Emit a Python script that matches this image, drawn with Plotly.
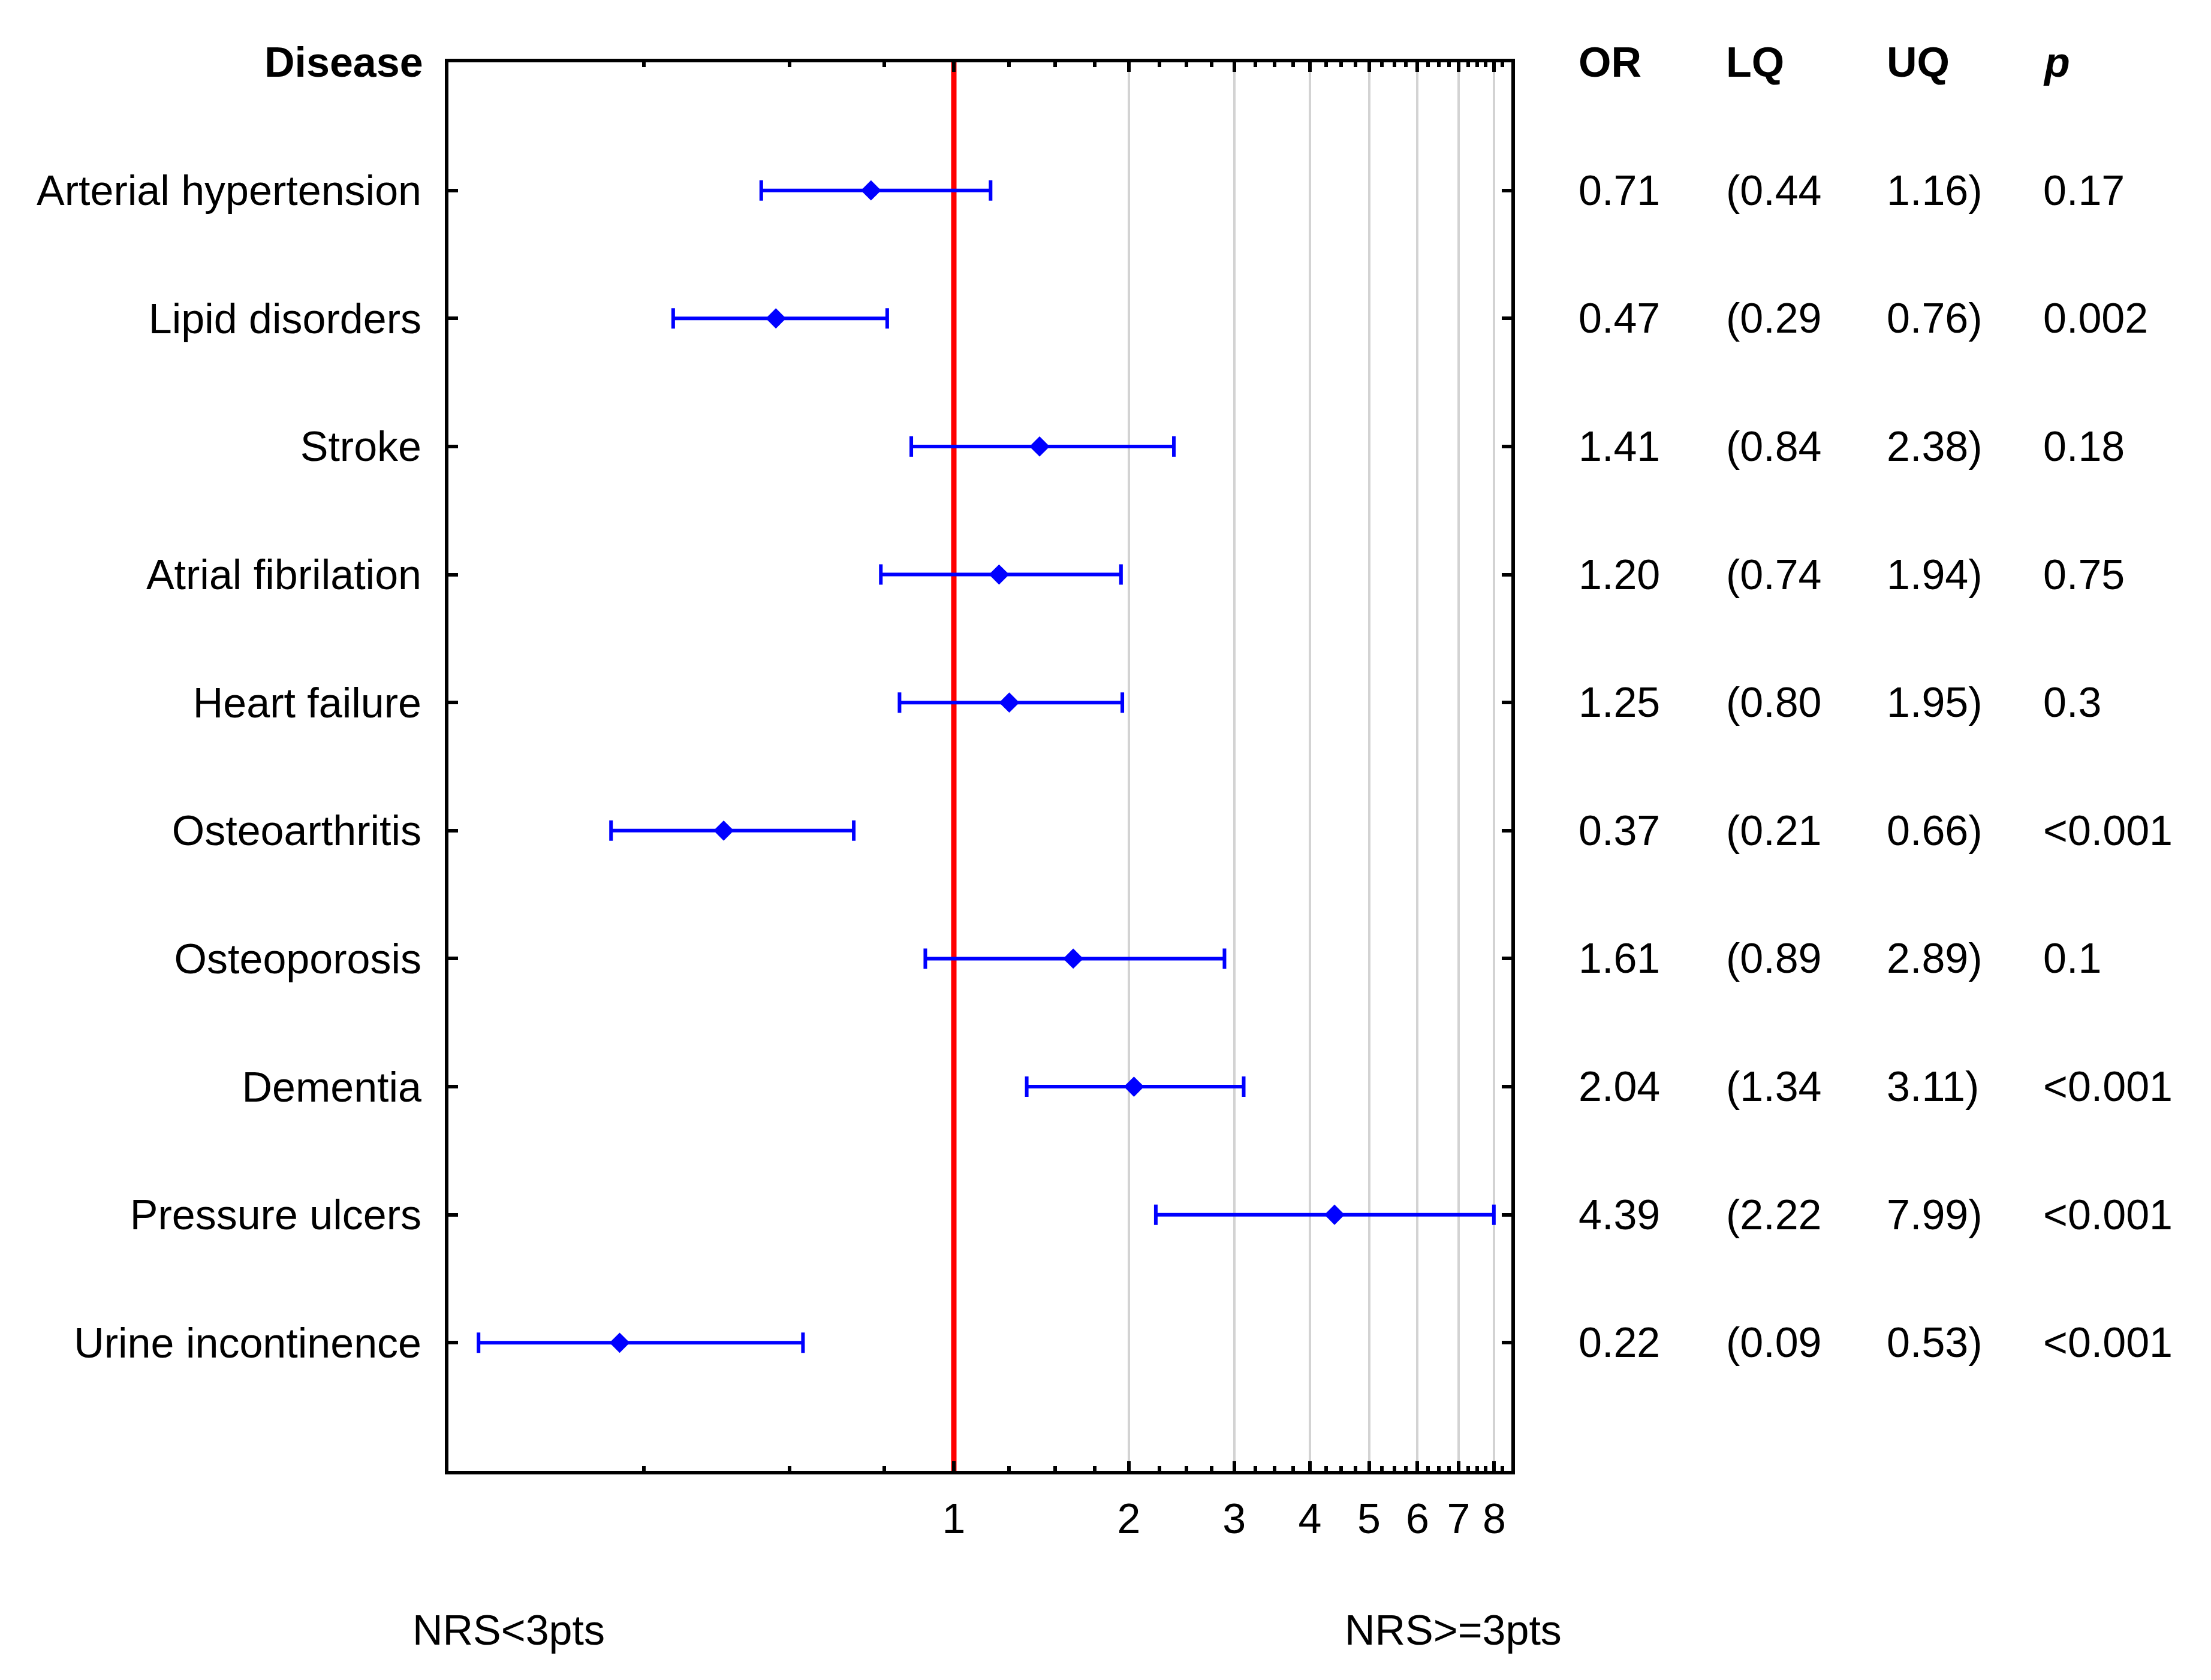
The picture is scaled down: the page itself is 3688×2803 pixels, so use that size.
import math
import plotly.graph_objects as go

# forest plot: odds ratios with 95% CI per disease
diseases = ["Arterial hypertension", "Lipid disorders", "Stroke", "Atrial fibrilation",
            "Heart failure", "Osteoarthritis", "Osteoporosis", "Dementia",
            "Pressure ulcers", "Urine incontinence"]
odds = [0.71, 0.47, 1.41, 1.20, 1.25, 0.37, 1.61, 2.04, 4.39, 0.22]
lower = [0.44, 0.29, 0.84, 0.74, 0.80, 0.21, 0.89, 1.34, 2.22, 0.09]
upper = [1.16, 0.76, 2.38, 1.94, 1.95, 0.66, 2.89, 3.11, 7.99, 0.53]
pvals = ["0.17", "0.002", "0.18", "0.75", "0.3", "&lt;0.001", "0.1", "&lt;0.001",
         "&lt;0.001", "&lt;0.001"]
major_ticks = [1, 2, 3, 4, 5, 6, 7, 8]
minor_ticks = [0.25, 0.5, 0.75, 1.25, 1.5, 1.75, 2.25, 2.5, 2.75, 3.25, 3.5, 3.75,
               4.25, 4.5, 4.75, 5.25, 5.5, 5.75, 6.25, 6.5, 6.75, 7.25, 7.5, 7.75, 8.25]
ref_or = 1.0

# the original program draws the OR axis as log(OR + 0.1)
OFFSET = 0.1
X_MIN, X_MAX = 0.07, 8.53

FONT = "Liberation Sans, Arial, sans-serif"
SHIFT = 8  # default body margin of the html page
W, H = 3688 - SHIFT, 2803 - SHIFT
L, T = 748 - SHIFT, 104 - SHIFT
R, B = 3688 - 2521, 2803 - 2454
PW = W - L - R  # plot width in px


def xpaper(px):
    return (px - SHIFT - L) / PW


rows = list(range(len(diseases)))

fig = go.Figure()
# reference line at OR = 1
fig.add_trace(go.Scatter(
    x=[ref_or + OFFSET, ref_or + OFFSET], y=[-1, 10], mode="lines",
    line=dict(color="#FF0000", width=9), hoverinfo="skip", showlegend=False,
))
fig.add_trace(go.Scatter(
    x=[v + OFFSET for v in odds],
    y=rows,
    mode="markers",
    marker=dict(symbol="diamond", size=26, color="#0000FF"),
    error_x=dict(type="data", symmetric=False,
                 array=[u - o for u, o in zip(upper, odds)],
                 arrayminus=[o - l for o, l in zip(odds, lower)],
                 color="#0000FF", thickness=6, width=17),
    showlegend=False,
))

# table on the right
cols = [
    ("<b>OR</b>", [f"{v:.2f}" for v in odds], 2631),
    ("<b>LQ</b>", [f"({v:.2f}" for v in lower], 2877),
    ("<b>UQ</b>", [f"{v:.2f})" for v in upper], 3145),
    ("<b><i>p</i></b>", pvals, 3406),
]
for head, vals, px in cols:
    fig.add_annotation(x=xpaper(px), y=-1, xref="paper", yref="y", text=head,
                       showarrow=False, xanchor="left", yanchor="middle")
    for i, t in enumerate(vals):
        fig.add_annotation(x=xpaper(px), y=i, xref="paper", yref="y", text=t,
                           showarrow=False, xanchor="left", yanchor="middle")

fig.add_annotation(x=xpaper(708), y=-1, xref="paper", yref="y",
                   text="<b>Disease</b>", showarrow=False, xanchor="right", yanchor="middle")

# group labels under the axis
ylab = (2454 - 2720) / (2454 - 104)
fig.add_annotation(x=xpaper(848), y=ylab, xref="paper", yref="paper",
                   text="NRS&lt;3pts", showarrow=False, xanchor="center", yanchor="middle")
fig.add_annotation(x=xpaper(2424), y=ylab, xref="paper", yref="paper",
                   text="NRS&gt;=3pts", showarrow=False, xanchor="center", yanchor="middle")

fig.update_xaxes(
    type="log",
    range=[math.log10(X_MIN + OFFSET), math.log10(X_MAX + OFFSET)],
    tickmode="array",
    tickvals=[v + OFFSET for v in major_ticks],
    ticktext=[str(v) for v in major_ticks],
    ticks="inside", ticklen=16, tickwidth=6, tickcolor="black",
    showline=True, linewidth=6, linecolor="black", mirror="ticks",
    showgrid=True, gridcolor="#D3D3D3", gridwidth=4,
    zeroline=False,
    ticklabelstandoff=14,
    minor=dict(tickmode="array", tickvals=[v + OFFSET for v in minor_ticks],
               ticks="inside", ticklen=8, tickwidth=6, tickcolor="black", showgrid=False),
)
fig.update_yaxes(
    range=[10, -1],
    tickmode="array", tickvals=rows, ticktext=diseases,
    ticks="inside", ticklen=16, tickwidth=6, tickcolor="black",
    showline=True, linewidth=6, linecolor="black", mirror="ticks",
    showgrid=False, zeroline=False,
    ticklabelstandoff=25,
)
fig.update_layout(
    width=W, height=H,
    margin=dict(l=L, r=R, t=T, b=B, pad=0),
    paper_bgcolor="white", plot_bgcolor="white",
    font=dict(family=FONT, size=70, color="black"),
)

fig.write_html("out.html")
